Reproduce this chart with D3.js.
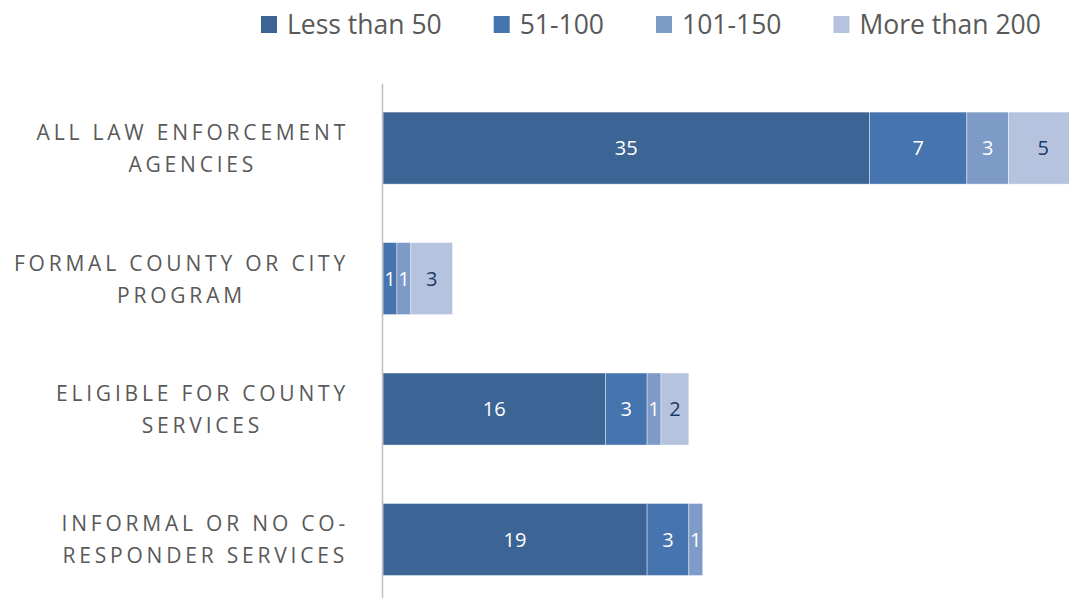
<!DOCTYPE html>
<html>
<head>
<meta charset="utf-8">
<script src="https://cdn.jsdelivr.net/npm/d3@7"></script>
<style>
  body { margin: 0; background: #fff; }
  svg { display: block; }
</style>
</head>
<body>
<div id="chart"></div>
<script>
// categories (top to bottom), each label split into two lines
const categories = ["all", "formal", "eligible", "informal"];
const categoryLines = [
  ["ALL LAW ENFORCEMENT", "AGENCIES"],
  ["FORMAL COUNTY OR CITY", "PROGRAM"],
  ["ELIGIBLE FOR COUNTY", "SERVICES"],
  ["INFORMAL OR NO CO-", "RESPONDER SERVICES"]
];
const seriesNames = ["Less than 50", "51-100", "101-150", "More than 200"];
const lessThan50 = [35, 0, 16, 19];
const from51to100 = [7, 1, 3, 3];
const from101to150 = [3, 1, 1, 1];
const moreThan200 = [5, 3, 2, 0];

const colors = ["#3c6595", "#4674ae", "#7e9bc8", "#b5c3de"];
const labelColors = ["#ffffff", "#ffffff", "#ffffff", "#1f3864"];

const width = 1069, height = 598;
const margin = { top: 86, left: 383 };

const svg = d3.select("#chart").append("svg")
  .attr("width", width)
  .attr("height", height);

// build stacked rows
const rows = categories.map((c, i) => ({
  cat: c,
  "Less than 50": lessThan50[i],
  "51-100": from51to100[i],
  "101-150": from101to150[i],
  "More than 200": moreThan200[i]
}));
const stacked = d3.stack().keys(seriesNames)(rows);

// last bar runs past the right edge (clipped, as in the original)
const x = d3.scaleLinear().domain([0, 50]).range([margin.left, 1078]);
const y = d3.scaleBand().domain(categories).range([margin.top, 601.6])
  .paddingInner(0.448).paddingOuter(0.2);

// bars
const groups = svg.selectAll("g.series")
  .data(stacked)
  .join("g")
    .attr("class", "series")
    .attr("fill", (d, i) => colors[i]);

groups.selectAll("rect")
  .data(d => d.filter(p => p[1] - p[0] > 0))
  .join("rect")
    .attr("x", d => x(d[0]))
    .attr("y", d => y(d.data.cat))
    .attr("width", d => x(d[1]) - x(d[0]))
    .attr("height", y.bandwidth())
    .attr("stroke", "#ffffff")
    .attr("stroke-opacity", 0.5)
    .attr("stroke-width", 0.8);

// value labels
stacked.forEach((s, si) => {
  svg.append("g")
    .selectAll("text")
    .data(s.filter(p => p[1] - p[0] > 0))
    .join("text")
      .attr("x", d => (x(d[0]) + x(d[1])) / 2)
      .attr("y", d => y(d.data.cat) + y.bandwidth() / 2)
      .attr("dy", "0.36em")
      .attr("text-anchor", "middle")
      .style("font-family", "'Open Sans', sans-serif")
      .style("font-size", "20px")
      .attr("fill", labelColors[si])
      .text(d => d[1] - d[0]);
});

// vertical axis line
svg.append("line")
  .attr("x1", margin.left - 0.5).attr("x2", margin.left - 0.5)
  .attr("y1", 84).attr("y2", height)
  .attr("stroke", "#bfbfbf")
  .attr("stroke-width", 1.5);

// category labels, lines centered within a block right-aligned near the axis
const catG = svg.append("g");
categories.forEach((c, i) => {
  const cy = y(c) + y.bandwidth() / 2;
  const texts = categoryLines[i].map((line, li) =>
    catG.append("text")
      .attr("y", cy + (li === 0 ? -8 : 24))
      .attr("text-anchor", "middle")
      .style("font-family", "'Open Sans', sans-serif")
      .style("font-size", "21px")
      .style("letter-spacing", "3.8px")
      .attr("fill", "#595959")
      .text(line)
  );
  const maxW = d3.max(texts, t => t.node().getComputedTextLength());
  texts.forEach(t => t.attr("x", 349 - maxW / 2));
});

// legend
const legend = svg.append("g");
let lx = 261;
seriesNames.forEach((name, i) => {
  legend.append("rect")
    .attr("x", lx).attr("y", 16)
    .attr("width", 16).attr("height", 17)
    .attr("fill", colors[i]);
  const t = legend.append("text")
    .attr("x", lx + 26).attr("y", 34)
    .style("font-family", "'Open Sans', sans-serif")
    .style("font-size", "26.5px")
    .attr("fill", "#595959")
    .text(name);
  lx += 26 + t.node().getComputedTextLength() + 52;
});
</script>
</body>
</html>
